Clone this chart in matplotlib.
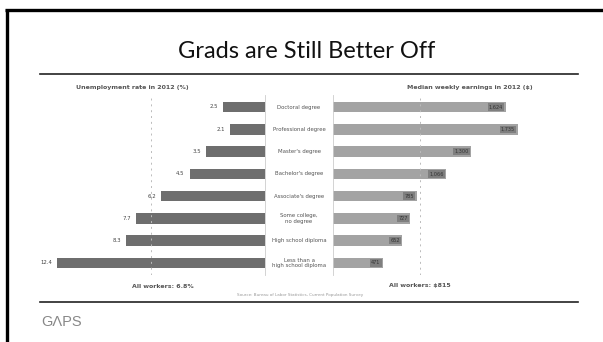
import numpy as np
import matplotlib
matplotlib.use('Agg')
import matplotlib.pyplot as plt
from matplotlib.lines import Line2D

# data
categories = ['Doctoral degree', 'Professional degree', "Master's degree",
              "Bachelor's degree", "Associate's degree", 'Some college,\nno degree',
              'High school diploma', 'Less than a\nhigh school diploma']
unemployment = [2.5, 2.1, 3.5, 4.5, 6.2, 7.7, 8.3, 12.4]
unemp_labels = ['2.5', '2.1', '3.5', '4.5', '6.2', '7.7', '8.3', '12.4']
earnings = [1624, 1735, 1300, 1066, 785, 727, 652, 471]
earn_labels = ['1,624', '1,735', '1,300', '1,066', '785', '727', '652', '471']
all_unemp = 6.8
all_earn = 815

W, H = 603, 342
fig = plt.figure(figsize=(W / 100, H / 100), dpi=100)
fig.patch.set_facecolor('white')


def fx(px):
    return px / W


def fy(py):
    return 1 - py / H


def px_axes(x0, x1, y0, y1):
    return fig.add_axes([fx(x0), fy(y1), fx(x1) - fx(x0), (y1 - y0) / H])


# slide frame
fig.add_artist(Line2D([fx(6.5), fx(6.5)], [fy(9), fy(H)], color='black', lw=2.4,
                      solid_capstyle='butt'))
fig.add_artist(Line2D([fx(5), fx(W)], [fy(10), fy(10)], color='black', lw=2.4,
                      solid_capstyle='butt'))

fig.text(fx(307), fy(52), 'Grads are Still Better Off', family='Lato',
         fontsize=17, ha='center', va='center', color='#111111')
fig.add_artist(Line2D([fx(40), fx(578)], [fy(74), fy(74)], color='#222222', lw=1.2))
fig.add_artist(Line2D([fx(40), fx(578)], [fy(302), fy(302)], color='#222222', lw=1.2))

fig.text(fx(62), fy(322), 'G\u039bPS', fontsize=10.5, color='#888888',
         ha='center', va='center', family='Liberation Sans')

y = np.arange(len(categories))
row_top, row_bot = 107, 263
step = (row_bot - row_top) / (len(categories) - 1)
ay0 = row_top - 0.55 * step
ay1 = row_bot + 0.55 * step
ylim = (len(categories) - 0.45, -0.55)

# left panel: unemployment
axl = px_axes(47, 265, ay0, ay1)
axl.barh(y, unemployment, height=0.48, color='#6e6e6e')
axl.set_xlim(13.0, 0)
axl.set_ylim(ylim)
axl.axvline(all_unemp, color='#bbbbbb', lw=0.7, ls=(0, (2, 4)))
for yi, v, s in zip(y, unemployment, unemp_labels):
    axl.text(v + 0.3, yi, s, fontsize=3.9, ha='right', va='center', color='#444444')
for sp in ['top', 'left', 'bottom']:
    axl.spines[sp].set_visible(False)
axl.spines['right'].set_color('#cccccc')
axl.spines['right'].set_linewidth(0.6)
axl.set_xticks([])
axl.set_yticks([])
axl.patch.set_alpha(0)

# right panel: earnings
axr = px_axes(333, 565, ay0, ay1)
axr.barh(y, earnings, height=0.48, color='#a3a3a3')
axr.set_xlim(0, 2180)
axr.set_ylim(ylim)
axr.axvline(all_earn, color='#bbbbbb', lw=0.7, ls=(0, (2, 4)))
for yi, v, s in zip(y, earnings, earn_labels):
    axr.text(v - 25, yi, s, fontsize=3.6, ha='right', va='center', color='#333333',
             bbox=dict(boxstyle='square,pad=0.25', fc='#7f7f7f', ec='none'))
for sp in ['top', 'right', 'bottom']:
    axr.spines[sp].set_visible(False)
axr.spines['left'].set_color('#cccccc')
axr.spines['left'].set_linewidth(0.6)
axr.set_xticks([])
axr.set_yticks([])
axr.patch.set_alpha(0)

# category labels in the middle column
for yi, c in zip(y, categories):
    fig.text(fx(299), fy(row_top + yi * step), c, fontsize=3.9, ha='center',
             va='center', color='#555555', linespacing=1.25)

# headers and footers
fig.text(fx(132), fy(88), 'Unemployment rate in 2012 (%)', fontsize=4.5, ha='center',
         va='center', color='#555555', weight='bold')
fig.text(fx(470), fy(88), 'Median weekly earnings in 2012 ($)', fontsize=4.5, ha='center',
         va='center', color='#555555', weight='bold')
fig.text(fx(163), fy(286), 'All workers: 6.8%', fontsize=4.5, ha='center',
         va='center', color='#555555', weight='bold')
fig.text(fx(420), fy(286), 'All workers: $815', fontsize=4.5, ha='center',
         va='center', color='#555555', weight='bold')
fig.text(fx(300), fy(295), 'Source: Bureau of Labor Statistics, Current Population Survey',
         fontsize=3, ha='center', va='center', color='#999999')

fig.savefig('out.png', dpi=100)
